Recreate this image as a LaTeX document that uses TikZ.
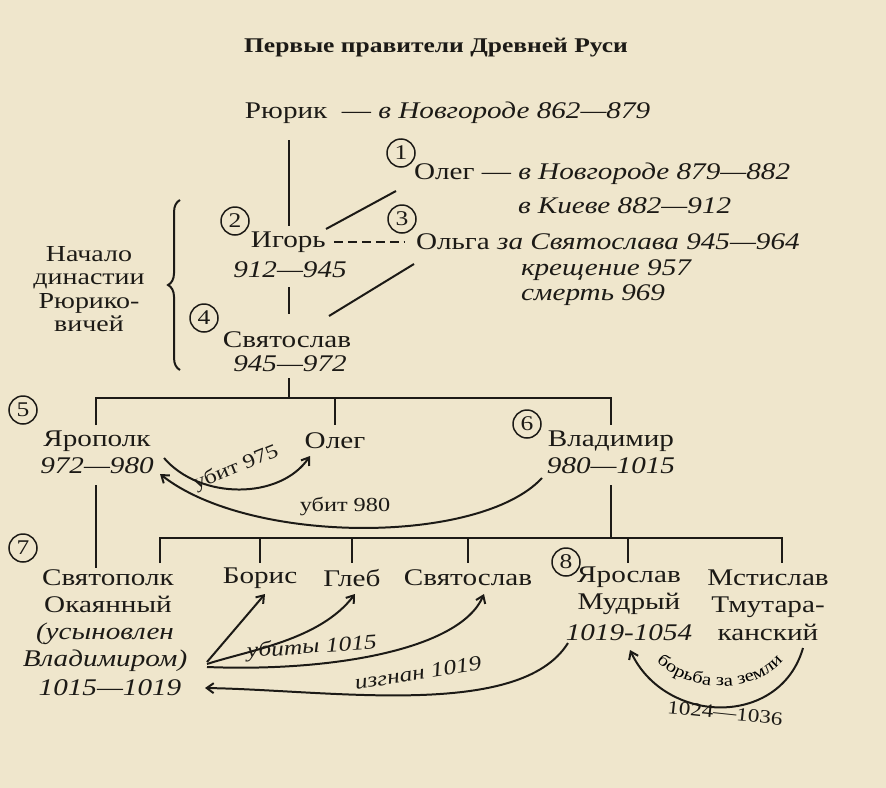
\documentclass[tikz,border=0pt]{standalone}
\usepackage{fontspec}
\setmainfont{Liberation Serif}[FakeStretch=1.22]
\usetikzlibrary{arrows.meta,decorations.pathreplacing,decorations.text}
\definecolor{paper}{HTML}{EFE6CC}
\definecolor{ink}{HTML}{1C1A16}
\begin{document}
\begin{tikzpicture}[x=1bp,y=-1bp,line width=2pt,draw=ink,text=ink,
  t/.style={inner sep=0pt,font=\fontsize{24}{26}\selectfont},
  it/.style={t,font=\fontsize{24}{26}\selectfont\itshape},
  num/.style={circle,draw=ink,line width=1.5pt,minimum size=28bp,inner sep=0pt,font=\fontsize{21}{21}\selectfont},
  arr/.style={-{Straight Barb[length=7pt,width=10pt]},line width=2pt},
  lab/.style={inner sep=0pt,font=\fontsize{20}{22}\selectfont}]
\fill[paper] (0,0) rectangle (886,788);
\useasboundingbox (0,0) rectangle (886,788);
\node[t,font=\fontsize{21}{22}\selectfont\bfseries] (title) at (436,48) {Первые правители Древней Руси};
% top generation
\node[t,anchor=west] (rurik) at (244,113) {Рюрик \ —\ \textit{в Новгороде 862—879}};
\node[num] (c1) at (401,153) {1};
\node[t,anchor=west] (oleg1) at (413,174) {Олег — \textit{в Новгороде 879—882}};
\node[it,anchor=west] (oleg2) at (517,206) {в Киеве 882—912};
\node[num] (c2) at (235,221) {2};
\node[t,anchor=west] (igor) at (250,242) {Игорь};
\node[it] (igord) at (290,270) {912—945};
\node[num] (c3) at (402,219) {3};
\node[t,anchor=west] (olga) at (415,242) {Ольга \textit{за Святослава 945—964}};
\node[it,anchor=west] (olga2) at (520,270) {крещение 957};
\node[it,anchor=west] (olga3) at (520,295) {смерть 969};
\node[num] (c4) at (204,318) {4};
\node[t,anchor=west] (svs) at (222,340) {Святослав};
\node[it] (svsd) at (290,364) {945—972};
\coordinate (r1) at (289,140); \coordinate (r2) at (289,226);
\draw (r1) -- (r2);
\coordinate (i1) at (334,242); \coordinate (i2) at (404,242);
\draw[dash pattern=on 9pt off 5pt] (i1) -- (i2);
\coordinate (o1) at (396,191); \coordinate (o2) at (326,229);
\draw (o1) -- (o2);
\coordinate (g1) at (414,264); \coordinate (g2) at (329,316);
\draw (g1) -- (g2);
\coordinate (s1) at (289,287); \coordinate (s2) at (289,314);
\draw (s1) -- (s2);
\draw[decorate,decoration={brace,amplitude=12pt,mirror}] (180,200) -- (180,370);
\node[t,align=center,font=\fontsize{23}{23.5}\selectfont] (dyn) at (89,289) {Начало\\династии\\Рюрико-\\вичей};
% second generation
\node[num] (c5) at (23,410) {5};
\node[t] (yarop) at (97,441) {Ярополк};
\node[it] (yaropd) at (97,466) {972—980};
\node[t] (oleg) at (335,441) {Олег};
\node[num] (c6) at (527,424) {6};
\node[t] (vlad) at (611,441) {Владимир};
\node[it] (vladd) at (611,466) {980—1015};
\coordinate (b0) at (289,378); \coordinate (b1) at (289,398);
\draw (b0) -- (b1);
\draw (96,425) -- (96,398) -- (611,398) -- (611,425);
\draw (335,398) -- (335,425);
\draw[arr] (164,458) .. controls (200,500) and (280,500) .. (310,456);
\node[lab,rotate=22] (k975) at (236,468) {убит 975};
\draw[arr] (542,478) .. controls (480,545) and (250,545) .. (160,474);
\node[lab] (k980) at (345,507) {убит 980};
% third generation
\draw (96,485) -- (96,568);
\draw (611,485) -- (611,538);
\draw (160,563) -- (160,538) -- (782,538) -- (782,563);
\foreach \x in {260,352,468,628} \draw (\x,538) -- (\x,563);
\node[num] (c7) at (23,548) {7};
\node[t,align=center,font=\fontsize{24}{27.5}\selectfont] (svp) at (108,591) {Святополк\\Окаянный};
\node[it,align=center,font=\fontsize{24}{27.5}\selectfont\itshape] (svp2) at (105,647) {(усыновлен\\Владимиром)};
\node[it] (svpd) at (110,688) {1015—1019};
\node[t] (boris) at (260,578) {Борис};
\node[t] (gleb) at (352,578) {Глеб};
\node[t] (svs2) at (468,578) {Святослав};
\node[num] (c8) at (566,562) {8};
\node[t,align=center,font=\fontsize{24}{27.5}\selectfont] (yar) at (629,591) {Ярослав\\Мудрый};
\node[it] (yard) at (629,633) {1019-1054};
\node[t,align=center,font=\fontsize{24}{27.5}\selectfont] (mst) at (768,605) {Мстислав\\Тмутара-\\канский};
\coordinate (k0) at (207,662);
\draw[arr] (k0) -- (265,594);
\draw[arr] (207,664) .. controls (250,650) and (320,640) .. (355,594);
\draw[arr] (207,667) .. controls (330,672) and (460,650) .. (484,594);
\node[lab,font=\fontsize{21}{22}\selectfont\itshape,rotate=4] (k1015) at (312,648) {убиты 1015};
\draw[arr] (568,643) .. controls (520,720) and (330,690) .. (205,688);
\node[lab,font=\fontsize{21}{22}\selectfont\itshape,rotate=9] (exile) at (418,673) {изгнан 1019};
\draw[arr] (803,648) .. controls (780,728) and (665,725) .. (630,650);
\path[decorate,decoration={text along path,text align=center,
  text={|\fontsize{17}{18}\selectfont|борьба за земли}}]
  (646,648) .. controls (676,698) and (768,700) .. (792,646);
\node[lab,font=\fontsize{19}{20}\selectfont,rotate=-6] (fightd) at (725,713) {1024—1036};
\end{tikzpicture}
\end{document}
